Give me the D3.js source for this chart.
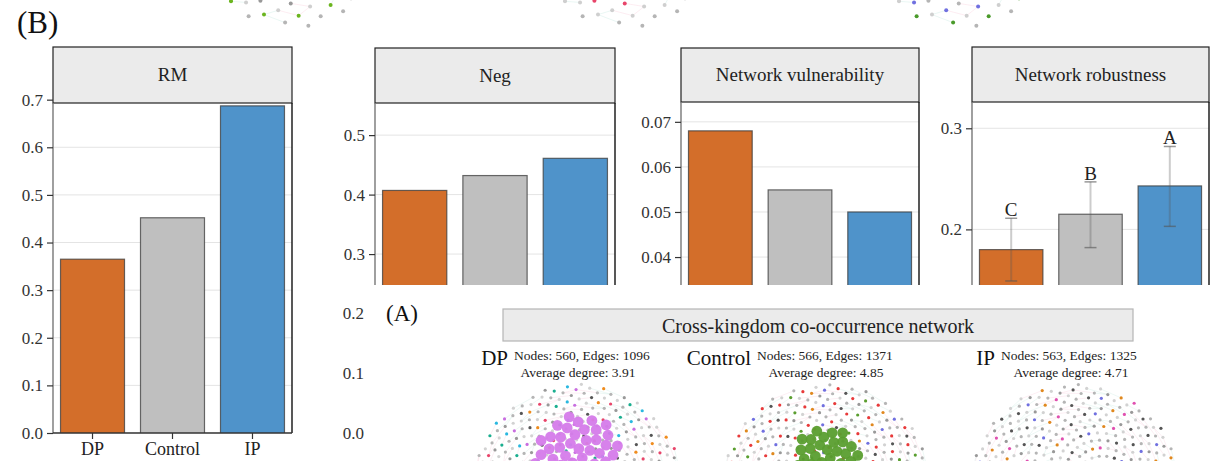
<!DOCTYPE html>
<html lang="en">
<head>
<meta charset="utf-8" />
<title>Network properties</title>
<script src="https://d3js.org/d3.v7.min.js"></script>
<style>
  body { margin: 0; background: #fff; }
  svg { display: block; font-family: "Liberation Serif", "DejaVu Serif", serif; }
  .tick text { font-family: "Liberation Serif", "DejaVu Serif", serif; fill: #333; }
</style>
</head>
<body>
<svg width="1216" height="461"></svg>
<script>
//  groups and colours
var groups = ["DP", "Control", "IP"];
var fills = ["#d36e2a", "#bfbfbf", "#4f93ca"];

//  panel values
var rmValues = [0.365, 0.452, 0.687];
var negValues = [0.407, 0.432, 0.461];
var vulnValues = [0.068, 0.0549, 0.050];
var robValues = [0.180, 0.215, 0.243];
var robLower = [0.149, 0.182, 0.203];
var robUpper = [0.211, 0.247, 0.282];
var robLetters = ["C", "B", "A"];

//  tick labels
var rmTicks = [0, 0.1, 0.2, 0.3, 0.4, 0.5, 0.6, 0.7];
var negTicks = [0.3, 0.4, 0.5];
var vulnTicks = [0.04, 0.05, 0.06, 0.07];
var robTicks = [0.2, 0.3];
var leftoverTicks = ["0.2", "0.1", "0.0"];

//  network summaries
var netNames = ["DP", "Control", "IP"];
var netNodes = [560, 566, 563];
var netEdges = [1096, 1371, 1325];
var netDegree = ["3.91", "4.85", "4.71"];
var netCore = [54, 36, 0];
var netCoreColor = ["#d57bea", "#5a9e2f", null];
var netPalettes = [
  ["#b5b5b5", "#d2d2d2", "#555", "#b5b5b5", "#f08c1e", "#d2d2d2", "#b5b5b5", "#e8456a", "#d2d2d2", "#999", "#b5b5b5", "#1aae8f", "#d2d2d2", "#b5b5b5", "#2ab8e0", "#999", "#c86ee0", "#d2d2d2"],
  ["#b5b5b5", "#e83a3a", "#d2d2d2", "#555", "#b5b5b5", "#e83a3a", "#d2d2d2", "#999", "#5a9e2f", "#b5b5b5", "#d2d2d2", "#e83a3a", "#b5b5b5", "#e0881e", "#d2d2d2", "#999", "#7070e0", "#b5b5b5"],
  ["#b5b5b5", "#d2d2d2", "#555", "#b5b5b5", "#d2d2d2", "#7070e0", "#999", "#b5b5b5", "#d2d2d2", "#e0881e", "#b5b5b5", "#d2d2d2", "#e050b0", "#999", "#b5b5b5", "#d2d2d2", "#555", "#b5b5b5"]
];
var topPalettes = [
  ["#b5b5b5", "#cfcfcf", "#6bb51f", "#b5b5b5", "#999", "#cfcfcf", "#6bb51f", "#b5b5b5"],
  ["#b5b5b5", "#cfcfcf", "#555", "#b5b5b5", "#e8456a", "#999", "#cfcfcf", "#b5b5b5"],
  ["#b5b5b5", "#7070e0", "#cfcfcf", "#4a9a2a", "#b5b5b5", "#999", "#cfcfcf", "#b5b5b5"]
];

var svg = d3.select("svg");
svg.append("rect").attr("width", 1216).attr("height", 461).attr("fill", "white");

//  network clouds (phyllotaxis layout, clipped to the view)
var golden = Math.PI * (3 - Math.sqrt(5));
function cloud(g, cx, cy, R, n, palette, dotR, linkOpacity) {
  var s = R / Math.sqrt(n);
  var pts = d3.range(n).map(function(i) {
    var r = s * Math.sqrt(i + 0.5), a = i * golden;
    return { x: cx + r * Math.cos(a), y: cy + r * Math.sin(a), c: palette[i % palette.length] };
  });
  var links = [];
  pts.forEach(function(p, i) {
    if (i + 13 < n && i % 3 === 0) links.push([p, pts[i + 13]]);
    if (i + 21 < n && i % 4 === 1) links.push([p, pts[i + 21]]);
  });
  g.append("g").selectAll("line").data(links).join("line")
    .attr("x1", function(d) { return d[0].x; }).attr("y1", function(d) { return d[0].y; })
    .attr("x2", function(d) { return d[1].x; }).attr("y2", function(d) { return d[1].y; })
    .attr("stroke", function(d, i) { return i % 2 ? "#f3a8c0" : "#9ad8c8"; })
    .attr("stroke-opacity", linkOpacity).attr("stroke-width", 0.6);
  g.append("g").selectAll("circle").data(pts).join("circle")
    .attr("cx", function(d) { return d.x; }).attr("cy", function(d) { return d.y; })
    .attr("r", dotR).attr("fill", function(d) { return d.c; });
}

//  top remnants of networks
var topX = d3.scalePoint().domain([0, 1, 2]).range([292, 960]);
[0, 1, 2].forEach(function(k) {
  var g = svg.append("g");
  cloud(g, topX(k), -82, 110, 180, topPalettes[k], 2, 0.35);
});

//  bar panel builder
function panel(cfg) {
  var g = svg.append("g");
  var x = d3.scaleBand().domain(groups).range([cfg.x0, cfg.x1]).paddingInner(0.2).paddingOuter(0.094);
  var y = d3.scaleLinear().domain(cfg.domain).range([cfg.bottom, cfg.top + cfg.stripH]);
  var id = "clip" + cfg.title.replace(/\s/g, "");
  svg.append("clipPath").attr("id", id).append("rect")
    .attr("x", cfg.x0).attr("y", cfg.top + cfg.stripH)
    .attr("width", cfg.x1 - cfg.x0).attr("height", cfg.bottom - cfg.top - cfg.stripH);
  var plot = g.append("g").attr("clip-path", "url(#" + id + ")");

  plot.selectAll(".grid").data(cfg.ticks).join("line")
    .attr("x1", cfg.x0).attr("x2", cfg.x1)
    .attr("y1", function(d) { return y(d); }).attr("y2", function(d) { return y(d); })
    .attr("stroke", "#e4e4e4").attr("stroke-width", 1);

  plot.selectAll(".bar").data(cfg.values).join("rect")
    .attr("x", function(d, i) { return x(groups[i]); })
    .attr("width", x.bandwidth())
    .attr("y", function(d) { return y(d); })
    .attr("height", function(d) { return cfg.bottom + 5 - y(d); })
    .attr("fill", function(d, i) { return fills[i]; })
    .attr("stroke", "#3a3a3a").attr("stroke-opacity", 0.75).attr("stroke-width", 1.2);

  if (cfg.lower) {
    var eb = plot.append("g");
    cfg.values.forEach(function(v, i) {
      var cx = x(groups[i]) + x.bandwidth() / 2;
      eb.append("line").attr("x1", cx).attr("x2", cx)
        .attr("y1", y(cfg.lower[i])).attr("y2", y(cfg.upper[i]))
        .attr("stroke", "#555").attr("stroke-opacity", 0.3).attr("stroke-width", 2);
      [cfg.lower[i], cfg.upper[i]].forEach(function(e) {
        eb.append("line").attr("x1", cx - 6).attr("x2", cx + 6)
          .attr("y1", y(e)).attr("y2", y(e))
          .attr("stroke", "#555").attr("stroke-opacity", 0.6).attr("stroke-width", 1.5);
      });
      g.append("text").attr("x", cx).attr("y", y(cfg.upper[i]) - 2)
        .attr("text-anchor", "middle").attr("font-size", 19).attr("fill", "#222")
        .text(cfg.letters[i]);
    });
  }

  // strip
  g.append("rect").attr("x", cfg.x0).attr("y", cfg.top)
    .attr("width", cfg.x1 - cfg.x0).attr("height", cfg.stripH)
    .attr("fill", "#ebebeb").attr("stroke", "#222").attr("stroke-width", 1.2);
  g.append("text").attr("x", (cfg.x0 + cfg.x1) / 2).attr("y", cfg.top + cfg.stripH / 2 + 6)
    .attr("text-anchor", "middle").attr("font-size", 19).attr("fill", "#222")
    .text(cfg.title);

  // frame
  g.append("line").attr("x1", cfg.x1).attr("x2", cfg.x1)
    .attr("y1", cfg.top + cfg.stripH).attr("y2", cfg.bottom)
    .attr("stroke", "#111").attr("stroke-width", 1.4);
  g.append("line").attr("x1", cfg.x0).attr("x2", cfg.x0)
    .attr("y1", cfg.top + cfg.stripH).attr("y2", cfg.bottom)
    .attr("stroke", "#777").attr("stroke-width", 1.4);

  var ya = g.append("g").attr("transform", "translate(" + cfg.x0 + ",0)")
    .call(d3.axisLeft(y).tickValues(cfg.ticks).tickSize(6).tickPadding(4).tickFormat(d3.format(cfg.fmt)))
    .attr("font-family", null).attr("font-size", null);
  ya.select(".domain").remove();
  ya.selectAll(".tick line").attr("stroke", "#333").attr("stroke-width", 1.2);
  ya.selectAll(".tick text").style("font-size", "17px");

  if (cfg.xAxis) {
    var xa = g.append("g").attr("transform", "translate(0," + cfg.bottom + ")")
      .call(d3.axisBottom(x).tickSize(6).tickPadding(3))
      .attr("font-family", null).attr("font-size", null);
    xa.select(".domain").attr("stroke", "#333").attr("stroke-width", 1.4)
      .attr("d", "M" + cfg.x0 + ",0H" + cfg.x1);
    xa.selectAll(".tick line").attr("stroke", "#333").attr("stroke-width", 1.2);
    xa.selectAll(".tick text").style("font-size", "18px").style("fill", "#222");
  }
}

panel({ title: "RM", x0: 53, x1: 292, top: 47, stripH: 56, bottom: 433,
  domain: [0, 0.693], ticks: rmTicks, fmt: ".1f", values: rmValues, xAxis: true });
panel({ title: "Neg", x0: 375, x1: 615, top: 48, stripH: 55, bottom: 285,
  domain: [0.248, 0.554], ticks: negTicks, fmt: ".1f", values: negValues });
panel({ title: "Network vulnerability", x0: 681, x1: 919, top: 48, stripH: 54, bottom: 285,
  domain: [0.0338, 0.0744], ticks: vulnTicks, fmt: ".2f", values: vulnValues });
panel({ title: "Network robustness", x0: 972, x1: 1209, top: 47, stripH: 55, bottom: 285,
  domain: [0.145, 0.326], ticks: robTicks, fmt: ".1f", values: robValues,
  lower: robLower, upper: robUpper, letters: robLetters });

//  (B) label
svg.append("text").attr("x", 17).attr("y", 33).attr("font-size", 31).attr("fill", "#111").text("(B)");

//  leftover axis labels under the Neg panel
var ly = d3.scalePoint().domain(leftoverTicks).range([319, 439]);
svg.append("g").selectAll("text").data(leftoverTicks).join("text")
  .attr("x", 364).attr("y", function(d) { return ly(d); })
  .attr("text-anchor", "end").attr("font-size", 17).attr("fill", "#333")
  .text(function(d) { return d; });

//  (A) network section
svg.append("text").attr("x", 386).attr("y", 321).attr("font-size", 23).attr("fill", "#111").text("(A)");
svg.append("rect").attr("x", 503).attr("y", 309).attr("width", 630).attr("height", 32)
  .attr("fill", "#ebebeb").attr("stroke", "#b5b5b5").attr("stroke-width", 1.2);
svg.append("text").attr("x", 818).attr("y", 333).attr("text-anchor", "middle")
  .attr("font-size", 20).attr("fill", "#222").text("Cross-kingdom co-occurrence network");

var netX = d3.scalePoint().domain(netNames).range([578, 1075]);
var nameEnd = [508, 751, 995];
var degX = [578, 826, 1071];
netNames.forEach(function(name, k) {
  var cx = netX(name);
  var g = svg.append("g");
  cloud(g, cx, 490, 106, netNodes[k], netPalettes[k], 1.6, 0.3);
  if (netCore[k] > 0) {
    var coreR = k === 0 ? 44 : 32;
    var cs = coreR / Math.sqrt(netCore[k]);
    var core = d3.range(netCore[k]).map(function(i) {
      var r = cs * Math.sqrt(i + 0.5), a = i * golden;
      return { x: cx + r * Math.cos(a), y: 458 + r * Math.sin(a) };
    });
    g.append("g").selectAll("circle").data(core).join("circle")
      .attr("cx", function(d) { return d.x; }).attr("cy", function(d) { return d.y; })
      .attr("r", 5.4).attr("fill", netCoreColor[k]).attr("fill-opacity", 0.95);
  }
  svg.append("text").attr("x", nameEnd[k]).attr("y", 365).attr("text-anchor", "end")
    .attr("font-size", 21).attr("fill", "#111").text(name);
  svg.append("text").attr("x", nameEnd[k] + 6).attr("y", 360).attr("text-anchor", "start")
    .attr("font-size", 13.5).attr("fill", "#222")
    .text("Nodes: " + netNodes[k] + ", Edges: " + netEdges[k]);
  svg.append("text").attr("x", degX[k]).attr("y", 377).attr("text-anchor", "middle")
    .attr("font-size", 13.5).attr("fill", "#222")
    .text("Average degree: " + netDegree[k]);
});
</script>
</body>
</html>
